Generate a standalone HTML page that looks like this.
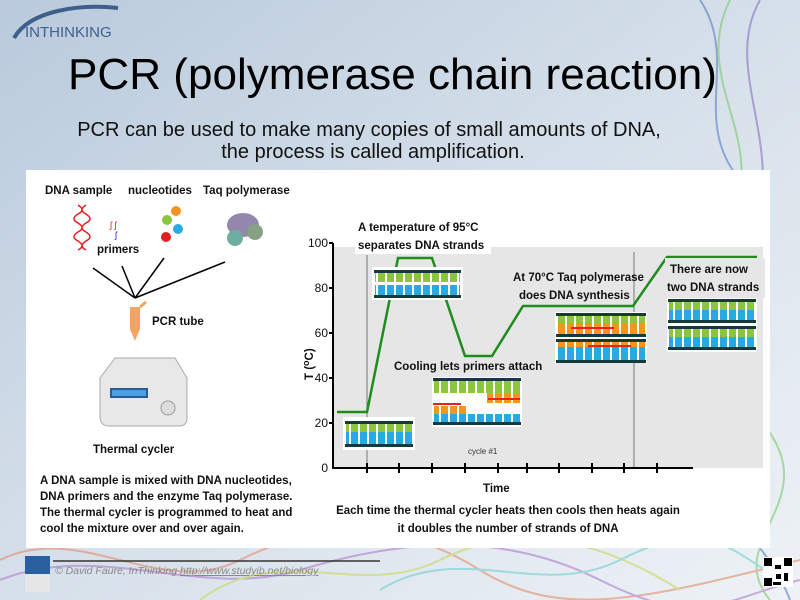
<!DOCTYPE html>
<html><head><meta charset="utf-8"><style>
html,body{margin:0;padding:0;width:800px;height:600px;overflow:hidden;}
svg{display:block}
text{font-family:"Liberation Sans",sans-serif}
.b{font-weight:bold;font-size:11.5px;fill:#111}
</style></head><body>
<svg width="800" height="600" viewBox="0 0 800 600" xmlns="http://www.w3.org/2000/svg">
<defs>
<linearGradient id="bg" x1="0" y1="0" x2="1" y2="1">
<stop offset="0" stop-color="#b9cadc"/><stop offset="0.5" stop-color="#d6e0ea"/><stop offset="1" stop-color="#eef2f6"/></linearGradient>
<pattern id="gap" width="9" height="10" patternUnits="userSpaceOnUse">
<rect x="7" y="0" width="2" height="10" fill="#fff"/>
</pattern>
</defs>
<rect width="800" height="600" fill="url(#bg)"/>
<g fill="none" stroke-width="2" opacity="0.6">
<path d="M700 0 C740 60 690 120 740 180 S760 300 720 400 S760 520 790 600" stroke="#5a7fc0"/>
<path d="M730 0 C690 80 770 140 730 220 S690 340 760 420 S720 540 770 600" stroke="#7bc96f"/>
<path d="M760 0 C720 70 790 150 750 240 S790 360 740 460" stroke="#8a6fc0"/>
<path d="M0 560 C80 520 160 600 240 560 S400 520 480 570 S640 600 800 560" stroke="#e58a6b"/>
<path d="M0 580 C100 540 200 600 300 570 S500 530 600 580 S720 600 800 580" stroke="#b07ad0"/>
<path d="M200 600 C280 540 360 600 440 560 S600 540 680 590" stroke="#c8d85a"/>
<path d="M380 590 C460 540 540 600 620 560 S720 540 780 580" stroke="#6fcfcf"/>
</g>
<path d="M14 38 C30 10 80 4 118 8" fill="none" stroke="#3e5e8c" stroke-width="4"/>
<text x="25" y="37" font-size="15" fill="#3e5e8c">INTHINKING</text>
<text x="68" y="89" font-size="44" fill="#000" textLength="649" lengthAdjust="spacingAndGlyphs">PCR (polymerase chain reaction)</text>
<text x="369" y="136" font-size="20" fill="#111" text-anchor="middle">PCR can be used to make many copies of small amounts of DNA,</text>
<text x="373" y="158" font-size="20" fill="#111" text-anchor="middle">the process is called amplification.</text>
<rect x="26" y="170" width="744" height="378" fill="#fff"/>
<text x="45" y="194" class="b">DNA sample</text>
<text x="128" y="194" class="b">nucleotides</text>
<text x="203" y="194" class="b">Taq polymerase</text>
<path d="M78 205 q8 5 0 9 q-8 5 0 9 q8 5 0 9 q-8 5 0 9 q8 5 0 9 M86 205 q-8 5 0 9 q8 5 0 9 q-8 5 0 9 q8 5 0 9 q-8 5 0 9" stroke="#e02020" fill="none" stroke-width="1.5"/>
<text x="110" y="228" font-size="9" fill="#d22">ʃ ʃ</text>
<text x="115" y="238" font-size="9" fill="#22c">ʃ</text>
<text x="97" y="253" class="b">primers</text>
<circle cx="176" cy="211" r="5" fill="#f7941d"/><circle cx="167" cy="220" r="5" fill="#8cc63f"/><circle cx="178" cy="229" r="5" fill="#29abe2"/><circle cx="166" cy="237" r="5" fill="#e02020"/>
<g fill="#7a6a9a" opacity="0.8"><ellipse cx="243" cy="225" rx="16" ry="12"/><ellipse cx="235" cy="238" rx="8" ry="8" fill="#4a9a8a"/><ellipse cx="255" cy="232" rx="8" ry="8" fill="#6a8a6a"/></g>
<g stroke="#000" stroke-width="1.5"><line x1="135" y1="298" x2="93" y2="268"/><line x1="135" y1="298" x2="122" y2="266"/><line x1="135" y1="298" x2="164" y2="258"/><line x1="135" y1="298" x2="225" y2="262"/></g>
<path d="M130 307 h10 v22 l-5 12 l-5 -12z" fill="#f4a460"/><path d="M140 307 l6 -5" stroke="#f4a460" stroke-width="3"/>
<text x="152" y="325" class="b">PCR tube</text>
<path d="M100 378 l15 -20 h60 l12 20 v40 q0 8 -8 8 h-70 q-8 0 -9 -8z" fill="#e8e8e8" stroke="#aaa"/>
<rect x="110" y="388" width="38" height="10" fill="#2a5a9a"/><rect x="112" y="390" width="34" height="6" fill="#4aa0e0"/>
<circle cx="168" cy="408" r="7" fill="#ddd" stroke="#999"/>
<text x="93" y="453" class="b">Thermal cycler</text>
<text class="b" font-size="10.5"><tspan x="40" y="484">A DNA sample is mixed with DNA nucleotides,</tspan><tspan x="40" y="500">DNA primers and the enzyme Taq polymerase.</tspan><tspan x="40" y="516">The thermal cycler is programmed to heat and</tspan><tspan x="40" y="532">cool the mixture  over and over again.</tspan></text>
<rect x="333" y="247" width="430" height="221" fill="#e6e6e6"/>
<rect x="355" y="214" width="136" height="40" fill="#fff"/>
<line x1="367" y1="255" x2="367" y2="468" stroke="#777"/>
<line x1="634" y1="252" x2="634" y2="468" stroke="#777"/>
<polyline points="337,412 367,412 398,258 432,258 465,356 492,356 523,306 633,306 667,257 757,257" fill="none" stroke="#1e8c1e" stroke-width="2.5"/>
<g stroke="#000" stroke-width="2"><line x1="333" y1="243" x2="333" y2="469"/><line x1="332" y1="468" x2="693" y2="468"/></g>
<g stroke="#000" stroke-width="2"><line x1="329" y1="243" x2="333" y2="243"/><line x1="329" y1="288" x2="333" y2="288"/><line x1="329" y1="333" x2="333" y2="333"/><line x1="329" y1="378" x2="333" y2="378"/><line x1="329" y1="423" x2="333" y2="423"/>
<path d="M367 463v10M399 463v10M432 463v10M465 463v10M498 463v10M527 463v10M559 463v10M592 463v10M624 463v10M657 463v10"/></g>
<g font-size="12" fill="#111" text-anchor="end"><text x="328" y="247">100</text><text x="328" y="292">80</text><text x="328" y="337">60</text><text x="328" y="382">40</text><text x="328" y="427">20</text><text x="328" y="472">0</text></g>
<text transform="translate(313,380) rotate(-90)" class="b" font-size="13">T (<tspan font-size="9" dy="-4">o</tspan><tspan dy="4">C)</tspan></text>
<text x="483" y="492" class="b" font-size="13">Time</text>
<text x="358" y="231" class="b">A temperature of 95°C</text>
<text x="358" y="249" class="b">separates DNA strands</text>
<text x="513" y="281" class="b">At 70°C Taq polymerase</text>
<text x="519" y="299" class="b">does DNA synthesis</text>
<rect x="665" y="258" width="100" height="40" fill="#e6e6e6"/>
<text x="670" y="273" class="b">There are now</text>
<text x="667" y="291" class="b">two DNA strands</text>
<text x="394" y="370" class="b">Cooling lets primers attach</text>
<text x="468" y="454" font-size="8" fill="#333">cycle #1</text>
<!-- box1 -->
<rect x="343" y="417" width="72" height="33" fill="#fff"/>
<rect x="346" y="424" width="66" height="8" fill="#8cc63f"/><rect x="346" y="432" width="66" height="12" fill="#27aae1"/>
<rect x="346" y="424" width="66" height="20" fill="url(#gap)"/>
<rect x="345" y="421" width="68" height="3" fill="#163a3a"/><rect x="345" y="444" width="68" height="3" fill="#163a3a"/>
<!-- box2 -->
<rect x="372" y="267" width="91" height="33" fill="#fff"/>
<rect x="375" y="273" width="85" height="9" fill="#8cc63f"/><rect x="375" y="285" width="85" height="10" fill="#27aae1"/>
<rect x="375" y="273" width="85" height="22" fill="url(#gap)"/>
<rect x="374" y="270" width="87" height="3" fill="#163a3a"/><rect x="374" y="295" width="87" height="3" fill="#163a3a"/>
<!-- box3 -->
<rect x="432" y="377" width="90" height="50" fill="#fff"/>
<rect x="434" y="381" width="86" height="12" fill="#8cc63f"/>
<rect x="487" y="393" width="33" height="10" fill="#f7941d"/>
<rect x="434" y="406" width="34" height="10" fill="#f7941d"/>
<rect x="434" y="414" width="86" height="8" fill="#27aae1"/>
<rect x="434" y="381" width="86" height="41" fill="url(#gap)"/>
<rect x="433" y="378" width="88" height="3" fill="#163a3a"/><rect x="433" y="422" width="88" height="3" fill="#163a3a"/>
<path d="M433 404h28M488 399h32" stroke="#e82020" stroke-width="2"/>
<!-- box4 -->
<rect x="555" y="312" width="92" height="51" fill="#fff"/>
<rect x="557" y="316" width="88" height="7" fill="#8cc63f"/><rect x="557" y="323" width="88" height="13" fill="#f7941d"/>
<rect x="557" y="341" width="88" height="6" fill="#f7941d"/><rect x="557" y="347" width="88" height="13" fill="#27aae1"/>
<rect x="557" y="316" width="88" height="45" fill="url(#gap)"/>
<rect x="556" y="313" width="90" height="3" fill="#163a3a"/><rect x="556" y="334" width="90" height="3" fill="#163a3a"/>
<rect x="556" y="339" width="90" height="3" fill="#163a3a"/><rect x="556" y="360" width="90" height="3" fill="#163a3a"/>
<path d="M571 328h43M588 346h43" stroke="#e82020" stroke-width="2"/>
<!-- box5 -->
<rect x="667" y="298" width="90" height="54" fill="#fff"/>
<rect x="669" y="302" width="86" height="8" fill="#8cc63f"/><rect x="669" y="310" width="86" height="10" fill="#27aae1"/>
<rect x="669" y="329" width="86" height="8" fill="#8cc63f"/><rect x="669" y="337" width="86" height="10" fill="#27aae1"/>
<rect x="669" y="302" width="86" height="45" fill="url(#gap)"/>
<rect x="668" y="299" width="88" height="3" fill="#163a3a"/><rect x="668" y="320" width="88" height="3" fill="#163a3a"/>
<rect x="668" y="326" width="88" height="3" fill="#163a3a"/><rect x="668" y="347" width="88" height="3" fill="#163a3a"/>
<text x="508" y="514" class="b" font-size="12" text-anchor="middle">Each time the thermal cycler heats then cools then heats again</text>
<text x="508" y="532" class="b" font-size="12" text-anchor="middle">it doubles the number of strands of  DNA</text>
<rect x="25" y="556" width="25" height="18" fill="#2a5fa0"/><rect x="25" y="574" width="25" height="18" fill="#e6e6e6"/>
<line x1="53" y1="561" x2="380" y2="561" stroke="#333" stroke-width="1.5"/>
<text x="55" y="574" font-size="10.5" font-style="italic" fill="#888">© David Faure, InThinking  <tspan text-decoration="underline">http://www.studyib.net/biology</tspan></text>
<rect x="763" y="557" width="30" height="30" fill="#fff"/>
<g fill="#000"><rect x="764" y="558" width="8" height="8"/><rect x="784" y="558" width="8" height="8"/><rect x="764" y="578" width="8" height="8"/><rect x="775" y="565" width="6" height="4"/><rect x="776" y="574" width="5" height="5"/><rect x="784" y="573" width="4" height="8"/><rect x="773" y="582" width="8" height="3"/></g>
</svg>
</body></html>
